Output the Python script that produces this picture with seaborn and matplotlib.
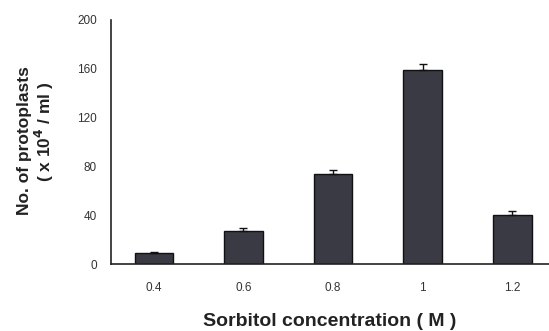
import matplotlib
matplotlib.use("Agg")
import matplotlib.pyplot as plt
import seaborn as sns
import numpy as np
import pandas as pd

categories = ["0.4", "0.6", "0.8", "1", "1.2"]
values = [9, 27, 74, 159, 40]
errors = [0.8, 2.5, 3, 5, 3.5]
yticks = [0, 40, 80, 120, 160, 200]

sns.set_theme(style="white")
plt.rcParams['font.family'] = ['Liberation Sans', 'DejaVu Sans']

df = pd.DataFrame({"conc": categories, "n": values})

fig = plt.figure(figsize=(5.49, 3.31), dpi=100)
ax = fig.add_axes([0.202, 0.2024, 0.798, 0.7372])

sns.barplot(data=df, x="conc", y="n", color="#3a3a44", edgecolor="#111111",
            linewidth=1.0, width=0.43, saturation=1, ax=ax, errorbar=None)
ax.errorbar(np.arange(len(values)), values, yerr=[np.zeros(len(errors)), errors],
            fmt="none", ecolor="#111111", elinewidth=1.0, capsize=3, capthick=1.0)

ax.set_ylim(0, 200)
ax.set_xlim(-0.48, 4.41)
ax.set_yticks(yticks)
ax.set_yticklabels([str(t) for t in yticks], fontsize=8.5, color="#333333")
ax.set_xticks(range(len(categories)))
ax.set_xticklabels(categories, fontsize=8.5, color="#333333")
ax.set_xticks(np.arange(0.5, 4.0, 1.0), minor=True)
ax.tick_params(axis="x", which="major", length=0, pad=13)
ax.tick_params(axis="x", which="minor", length=3, direction="in", width=0.8, color="#333333")
ax.tick_params(axis="y", which="major", length=3, direction="in", width=0.8, color="#333333", pad=10)

for s in ["top", "right"]:
    ax.spines[s].set_visible(False)
for s in ["left", "bottom"]:
    ax.spines[s].set_color("#222222")
    ax.spines[s].set_linewidth(1.2)

ax.set_xlabel("")
ax.set_ylabel("")
fig.text(330 / 549, 1 - 322 / 331, "Sorbitol concentration ( M )", fontsize=14, fontweight="bold",
         color="#222222", ha="center", va="center")
fig.text(25 / 549, 1 - 141 / 331, "No. of protoplasts", fontsize=12.5, fontweight="bold",
         color="#222222", ha="center", va="center", rotation=90)
fig.text(44 / 549, 1 - 132 / 331, "( x 10$^\\mathbf{4}$ / ml )", fontsize=12.5, fontweight="bold",
         color="#222222", ha="center", va="center", rotation=90)

fig.savefig("out.png", dpi=100)
